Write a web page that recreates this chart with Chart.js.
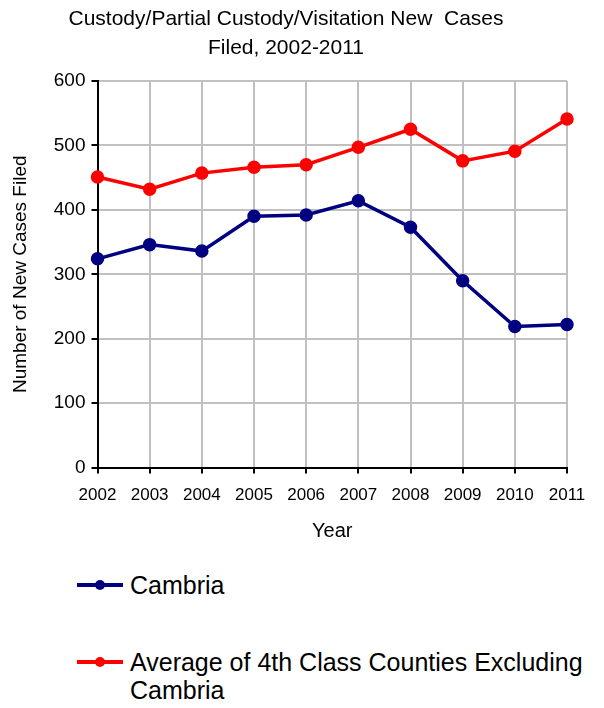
<!DOCTYPE html>
<html>
<head>
<meta charset="utf-8">
<script src="https://cdn.jsdelivr.net/npm/chart.js@4/dist/chart.umd.min.js"></script>
<style>
  body { margin: 0; background: #fff; font-family: "Liberation Sans", Arial, sans-serif; }
  #wrap { position: relative; width: 604px; height: 708px; }
  #chart { position: absolute; left: 0; top: 0; }
  #legend { position: absolute; left: 77px; top: 571px; width: 527px; }
  .item { display: flex; align-items: flex-start; font-size: 25px; line-height: 28px; color: #000; }
  .item + .item { margin-top: 49px; }
  .swatch { position: relative; width: 46px; height: 28px; flex: none; margin-right: 7px; }
  .swatch i { position: absolute; left: 0; right: 0; top: 12px; height: 4px; }
  .swatch b { position: absolute; left: 18px; top: 9px; width: 10px; height: 10px; border-radius: 50%; }
  .txt { width: 470px; }
</style>
</head>
<body>
<div id="wrap">
  <canvas id="chart" width="604" height="560"></canvas>
  <div id="legend"></div>
</div>
<script>
// data
const years = ['2002', '2003', '2004', '2005', '2006', '2007', '2008', '2009', '2010', '2011'];
const cambria = [324, 346, 336, 390, 392, 414, 373, 290, 219, 222];
const avgOthers = [451, 432, 457, 466, 470, 497, 525, 476, 491, 541];
const yTicks = [0, 100, 200, 300, 400, 500, 600];

const seriesNames = ['Cambria', 'Average of 4th Class Counties Excluding Cambria'];
const seriesColors = ['#000080', '#ff0000'];

const ctx = document.getElementById('chart').getContext('2d');
const font = 'Liberation Sans';

new Chart(ctx, {
    type: 'line',
    data: {
        labels: years,
        datasets: [cambria, avgOthers].map(function(vals, i) {
            return {
                label: seriesNames[i],
                data: vals,
                borderColor: seriesColors[i],
                backgroundColor: seriesColors[i],
                borderWidth: 3.5,
                pointRadius: 5,
                pointHoverRadius: 5,
                tension: 0
            };
        })
    },
    options: {
        responsive: false,
        animation: false,
        layout: { padding: { left: 5, right: 37, top: 3, bottom: 13 } },
        scales: {
            x: {
                offset: false,
                grid: { color: '#c0c0c0', lineWidth: 2, tickColor: '#000', tickLength: 6 },
                border: { color: '#000', width: 2 },
                ticks: { color: '#000', font: { family: font, size: 17 }, maxRotation: 0, padding: 12 },
                title: { display: true, text: 'Year', color: '#000', font: { family: font, size: 20 }, padding: { top: 1 } }
            },
            y: {
                min: 0,
                max: 600,
                afterBuildTicks: function(axis) {
                    axis.ticks = yTicks.map(function(v) { return { value: v }; });
                },
                grid: { color: '#c0c0c0', lineWidth: 2, tickColor: '#000', tickLength: 6 },
                border: { color: '#000', width: 2 },
                ticks: { color: '#000', font: { family: font, size: 19 }, padding: 6 },
                title: { display: true, text: 'Number of New Cases Filed', color: '#000', font: { family: font, size: 19 }, padding: { bottom: 16 } }
            }
        },
        plugins: {
            title: {
                display: true,
                text: ['Custody/Partial Custody/Visitation New  Cases', 'Filed, 2002-2011'],
                color: '#000',
                font: { family: font, size: 21, weight: 'normal', lineHeight: 1.38 },
                padding: { top: 2, bottom: 18 }
            },
            legend: { display: false },
            tooltip: { enabled: false }
        }
    }
});

// legend below the chart (second label wraps like the original)
const legend = document.getElementById('legend');
seriesNames.forEach(function(name, i) {
    const item = document.createElement('div');
    item.className = 'item';
    item.innerHTML = '<span class="swatch"><i style="background:' + seriesColors[i] + '"></i><b style="background:' + seriesColors[i] + '"></b></span><span class="txt">' + name + '</span>';
    legend.appendChild(item);
});
</script>
</body>
</html>
